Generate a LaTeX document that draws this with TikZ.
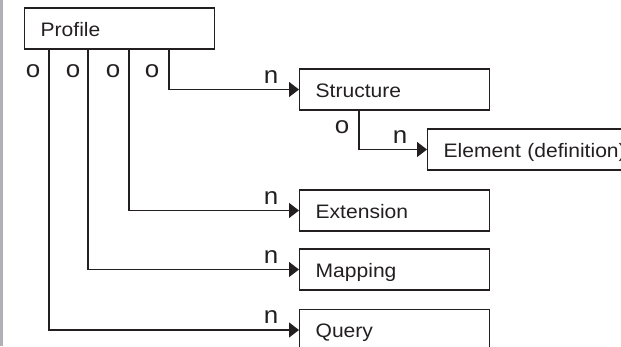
\documentclass[tikz,border=0pt]{standalone}
\usepackage{fontspec}
\setmainfont{Liberation Sans}[FakeStretch=1.08]
\usetikzlibrary{arrows.meta}
\definecolor{ink}{RGB}{35,31,32}
\definecolor{strip}{RGB}{176,176,182}
\begin{document}
\begin{tikzpicture}[x=1pt,y=-1pt,
  box/.style={draw=ink, line width=1.3pt, minimum height=41pt, inner xsep=16pt, inner ysep=0pt,
    text height=15pt, text depth=0pt, text width=158pt, align=left, anchor=west,
    font=\fontsize{19.5}{21}\selectfont, text=ink},
  lbl/.style={inner sep=0pt, font=\fontsize{24}{25}\selectfont, text=ink},
  conn/.style={draw=ink, line width=1.3pt, -{Triangle[length=10pt,width=15pt]}},
  stem/.style={draw=ink, line width=1.3pt}]
\useasboundingbox (0,0) rectangle (621,346);
\clip (0,0) rectangle (621,346);
\fill[strip] (0,0) rectangle (3,346);
% boxes
\node[box] (profile) at (24,28.5) {Profile};
\node[box] (structure) at (299,89.5) {Structure};
\node[box, text width=190pt] (element) at (427,149.5) {Element (definition)};
\node[box] (extension) at (299,210.5) {Extension};
\node[box] (mapping) at (299,269.5) {Mapping};
\node[box] (query) at (299,330) {Query};
% connectors
\draw[conn] (profile.south west) ++(145,0) |- (structure.west);
\draw[conn] (profile.south west) ++(105,0) |- (extension.west);
\draw[conn] (profile.south west) ++(64,0) |- (mapping.west);
\draw[conn] (profile.south west) ++(25,0) |- (query.west);
\draw[conn] (structure.south west) ++(60,0) |- (element.west);
% labels
\node[lbl] (o1) at (33,71) {o};
\node[lbl] (o2) at (73,71) {o};
\node[lbl] (o3) at (113,71) {o};
\node[lbl] (o4) at (152,71) {o};
\node[lbl] (o5) at (342,127.5) {o};
\node[lbl] (n1) at (271,77) {n};
\node[lbl] (n2) at (400,137) {n};
\node[lbl] (n3) at (271,198.5) {n};
\node[lbl] (n4) at (271,257) {n};
\node[lbl] (n5) at (271,317) {n};
\end{tikzpicture}
\end{document}
